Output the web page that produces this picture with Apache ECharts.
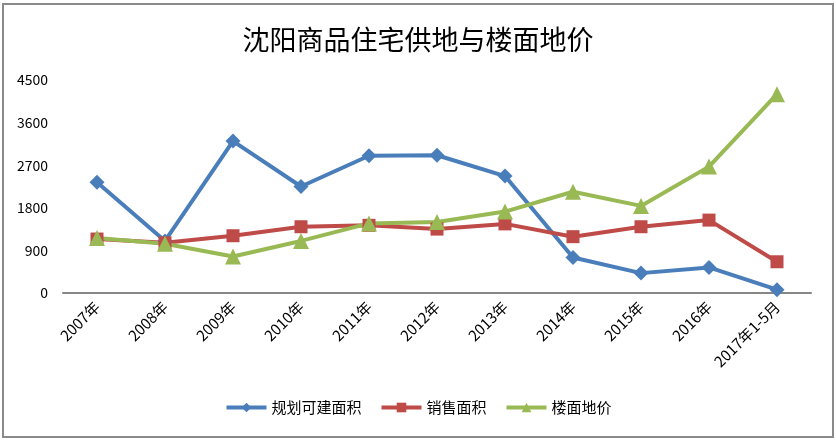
<!DOCTYPE html>
<html><head><meta charset="utf-8">
<script src="https://cdn.jsdelivr.net/npm/echarts@6/dist/echarts.min.js"></script>
<style>html,body{margin:0;padding:0;background:#fff}#c{width:836px;height:440px}</style>
</head><body><div id="c"></div>
<script>
const categories = ['2007年','2008年','2009年','2010年','2011年','2012年','2013年','2014年','2015年','2016年','2017年1-5月'];
const planArea = [2340, 1100, 3210, 2250, 2900, 2910, 2470, 750, 420, 540, 70];
const salesArea = [1140, 1060, 1210, 1400, 1430, 1350, 1460, 1190, 1400, 1540, 660];
const landPrice = [1160, 1040, 770, 1100, 1470, 1500, 1720, 2140, 1840, 2670, 4200];
const seriesNames = ['规划可建面积', '销售面积', '楼面地价'];
const yTicks = [0, 900, 1800, 2700, 3600, 4500];

const font = '"Noto Sans CJK SC", "Noto Sans", sans-serif';
const chart = echarts.init(document.getElementById('c'), null, {renderer: 'canvas'});
function ser(name, data, color, symbol, size) {
  return {name, type: 'line', data, symbol, symbolSize: size,
    lineStyle: {color, width: 4}, itemStyle: {color},
    emphasis: {disabled: true}};
}
chart.setOption({
  animation: false,
  title: {text: '沈阳商品住宅供地与楼面地价', left: 'center', top: 21,
    textStyle: {fontFamily: font, fontSize: 27, fontWeight: 'normal', color: '#000'}},
  graphic: [{type: 'rect', shape: {x: 3, y: 4, width: 830, height: 433},
    style: {fill: 'none', stroke: '#8a8a8a', lineWidth: 2}, silent: true}],
  legend: {bottom: 20, left: 'center', itemWidth: 40, itemHeight: 12, itemGap: 18,
    lineStyle: {width: 4},
    textStyle: {fontFamily: font, fontSize: 15, color: '#000'}, data: seriesNames},
  grid: {left: 63, right: 25, top: 80, bottom: 147, containLabel: false},
  xAxis: {type: 'category', data: categories, boundaryGap: true,
    axisLine: {lineStyle: {color: '#868686', width: 2}},
    axisTick: {show: false},
    axisLabel: {rotate: 45, interval: 0, fontFamily: font, fontSize: 15, color: '#000', margin: 11}},
  yAxis: {type: 'value', min: yTicks[0], max: yTicks[yTicks.length-1], interval: 900,
    axisLine: {show: false}, axisTick: {show: false}, splitLine: {show: false},
    axisLabel: {fontFamily: font, fontSize: 14, color: '#000', margin: 15,
      formatter: v => String(v)}},
  series: [
    ser(seriesNames[0], planArea, '#4A7EBB', 'diamond', 15),
    ser(seriesNames[1], salesArea, '#BE4B48', 'rect', 13),
    ser(seriesNames[2], landPrice, '#98B954', 'triangle', 16)
  ]
});
</script></body></html>
